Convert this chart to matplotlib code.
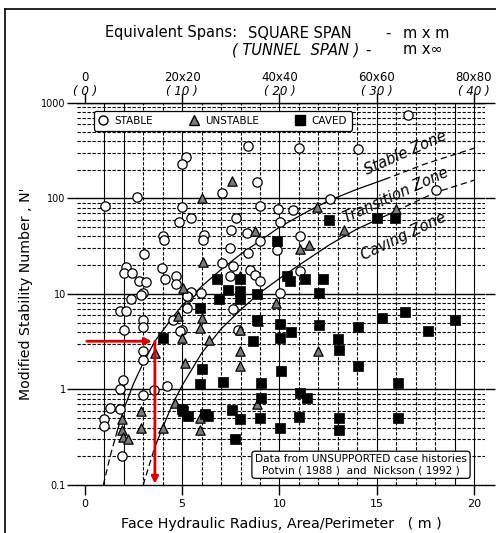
import numpy as np
import matplotlib.pyplot as plt
from matplotlib.lines import Line2D
from matplotlib.transforms import blended_transform_factory

plt.rcParams['font.family'] = ['DejaVu Sans']

# case histories (HR in m, N')
stable_hr = [1.03, 2.7, 5.18, 4.97, 4.97, 4.83, 5.45, 7.03, 8.38, 8.83, 9.0, 4.03, 4.06,
             6.13, 6.05, 3.05, 2.1, 2.02, 2.4, 2.8, 3.12, 3.99, 4.11, 4.7, 4.7, 3.0, 2.37,
             7.03, 7.46, 7.49, 7.76, 8.31, 8.4, 8.48, 7.63, 7.46, 5.48, 5.96, 16.6, 11.02,
             14.05, 18.05, 12.6, 9.94, 10.68, 10.03, 9.0, 11.05, 8.74, 9.0, 10.03, 11.05,
             9.85, 1.8, 2.14, 3.0, 3.0, 2.0, 5.31, 5.23, 4.97, 3.0, 3.0, 4.54, 4.88, 7.59,
             7.88, 4.2, 1.97, 1.83, 1.29, 1.8, 0.99, 0.99, 1.89, 3.0, 3.56, 2.91, 5.23]
stable_n = [84, 103, 270, 230, 82, 56, 62, 115, 350, 148, 83, 40, 37,
            41, 37, 26, 19, 16.5, 16.4, 13.5, 13.2, 18.6, 14.5, 15.4, 12.6, 10.2, 8.8,
            21, 30, 47, 63, 43, 27, 18, 19.5, 15.4, 10.4, 10.2, 745, 333,
            327, 122, 98, 77, 75, 56, 36, 40, 15.6, 13.6, 10.3, 17.3,
            29, 6.7, 6.7, 5.4, 4.5, 4.2, 9.3, 7.2, 4.2, 2.5, 2.06, 5.4, 4.07, 6.9,
            4.24, 1.08, 1.25, 1.02, 0.64, 0.63, 0.49, 0.41, 0.2, 0.87, 0.98, 9.85, 9.5]

unstable_hr = [6.03, 7.57, 6.05, 8.77, 5.06, 7.97, 11.94, 11.05, 11.53, 13.33, 15.99,
               9.82, 8.91, 11.96, 8.83, 7.97, 7.97, 7.97, 4.8, 6.0, 5.91, 4.97, 6.39,
               5.14, 3.6, 1.89, 1.89, 1.97, 2.23, 2.91, 2.91, 4.0, 4.63, 5.91, 5.91]
unstable_n = [100, 151, 21.7, 46, 11.6, 15.4, 82, 29.3, 32.5, 46.4, 77,
              8.1, 5.2, 2.52, 0.70, 4.2, 2.5, 1.75, 5.85, 5.6, 4.42, 3.48, 3.33,
              1.9, 2.42, 0.49, 0.38, 0.32, 0.30, 0.59, 0.40, 0.40, 0.73, 0.50, 0.38]

caved_hr = [12.56, 15.0, 15.94, 9.9, 10.37, 10.54, 11.31, 12.25, 12.05, 7.97, 7.97,
            7.97, 8.83, 16.45, 15.29, 19.02, 17.65, 14.05, 12.03, 12.99, 13.06, 10.03,
            10.03, 10.57, 8.83, 8.65, 14.05, 10.06, 16.08, 9.03, 9.03, 11.05, 11.4, 9.0,
            11.02, 10.03, 13.06, 13.06, 16.08, 7.97, 6.8, 7.37, 6.9, 5.91, 4.0, 6.0,
            5.91, 7.11, 5.06, 5.31, 6.17, 6.34, 7.54, 7.71, 4.97]
caved_n = [59, 63, 63, 36, 15.4, 13.6, 14.2, 14.2, 10.2, 14.2, 10.7,
           8.8, 9.9, 6.5, 5.55, 5.3, 4.07, 4.53, 4.7, 3.39, 2.56, 4.8,
           3.48, 4.01, 5.4, 3.2, 1.75, 1.55, 1.17, 1.16, 0.82, 0.92, 0.81, 0.5,
           0.51, 0.40, 0.505, 0.38, 0.50, 0.49, 14.2, 11.1, 8.9, 7.2, 3.48, 1.62,
           1.13, 1.19, 0.59, 0.53, 0.55, 0.53, 0.61, 0.30, 0.62]

# zone boundaries (dashed where extrapolated)
upper_lo_hr = [0.95, 1.3, 1.65]
upper_lo_n = [0.1, 0.2, 0.36]
upper_hr = [1.65, 2.0, 2.5, 3.0, 3.6, 4.3, 5.0, 6.0, 7.0, 8.0, 9.0, 10.0, 11.5, 12.6, 14.0, 15.4]
upper_n = [0.36, 0.62, 1.15, 1.9, 3.2, 5.0, 7.6, 12, 18, 26, 36, 50, 74, 96, 125, 158]
upper_hi_hr = [15.4, 17.5, 20.0]
upper_hi_n = [158, 230, 335]

lower_lo_hr = [3.0, 3.3, 3.6]
lower_lo_n = [0.1, 0.16, 0.25]
lower_hr = [3.6, 4.0, 4.5, 5.0, 6.0, 7.0, 8.0, 9.0, 10.0, 11.0, 12.6, 14.0, 16.0]
lower_n = [0.25, 0.4, 0.7, 1.1, 2.4, 4.3, 6.8, 10.3, 14.5, 20, 33, 48, 74]
lower_hi_hr = [16.0, 18.0, 20.0]
lower_hi_n = [74, 115, 155]

# worked example (red arrows)
example_hr = 3.6
example_n = 3.2
example_start_hr = 0.1

bottom_ticks = [0, 5, 10, 15, 20]
square_labels = ['0', '20x20', '40x40', '60x60', '80x80']
tunnel_labels = ['( 0 )', '( 10 )', '( 20 )', '( 30 )', '( 40 )']


def main():
    fig = plt.figure(figsize=(4.96, 5.33), dpi=100)
    ax = fig.add_axes([0.155, 0.090, 0.823, 0.717])
    ax.set_yscale('log')
    ax.set_xlim(-0.41, 20.57)
    ax.set_ylim(0.1, 1000)

    # grid lines
    solid_x = [1, 2, 5, 10, 15, 19, 20]
    for xv in range(1, 21):
        ax.axvline(xv, color='black', lw=0.8,
                   ls='-' if xv in solid_x else (0, (3, 1.5)), zorder=1)
    for dec in [0.1, 1, 10, 100]:
        for m in range(2, 10):
            ax.axhline(dec * m, color='black', lw=0.8, ls=(0, (3, 1.5)), zorder=1)
        ax.axhline(dec * 10, color='black', lw=1.0, zorder=1)

    for s in ['left', 'right']:
        ax.spines[s].set_visible(False)
    ax.spines['top'].set_linewidth(1.0)
    ax.spines['bottom'].set_linewidth(1.0)

    # zone boundaries
    ax.plot(upper_lo_hr, upper_lo_n, color='black', lw=0.9, ls=(0, (5, 3)), zorder=2)
    ax.plot(upper_hr, upper_n, color='black', lw=0.9, zorder=2)
    ax.plot(upper_hi_hr, upper_hi_n, color='black', lw=0.9, ls=(0, (5, 3)), zorder=2)
    ax.plot(lower_lo_hr, lower_lo_n, color='black', lw=0.9, ls=(0, (5, 3)), zorder=2)
    ax.plot(lower_hr, lower_n, color='black', lw=0.9, zorder=2)
    ax.plot(lower_hi_hr, lower_hi_n, color='black', lw=0.9, ls=(0, (5, 3)), zorder=2)

    # data points
    ax.scatter(stable_hr, stable_n, s=45, marker='o', facecolor='white',
               edgecolor='black', linewidth=0.9, zorder=4)
    ax.scatter(unstable_hr, unstable_n, s=45, marker='^', facecolor='#7a7a7a',
               edgecolor='black', linewidth=0.9, zorder=5)
    ax.scatter(caved_hr, caved_n, s=60, marker='s', facecolor='black',
               edgecolor='black', linewidth=0.5, zorder=6)

    # red arrows
    ax.annotate('', xy=(example_hr - 0.15, example_n), xytext=(example_start_hr, example_n),
                arrowprops=dict(arrowstyle='-|>', color='#d40000', lw=2,
                                mutation_scale=10, shrinkA=0, shrinkB=0), zorder=7)
    ax.annotate('', xy=(example_hr, 0.103), xytext=(example_hr, example_n),
                arrowprops=dict(arrowstyle='-|>', color='#d40000', lw=2,
                                mutation_scale=10, shrinkA=0, shrinkB=0), zorder=7)

    # zone names
    ax.text(16.5, 300, 'Stable Zone', rotation=24, fontsize=10.5, style='italic',
            ha='center', va='center', rotation_mode='anchor', zorder=3)
    ax.text(16.0, 108, 'Transition Zone', rotation=24.5, fontsize=10.5, style='italic',
            ha='center', va='center', rotation_mode='anchor', zorder=3)
    ax.text(16.4, 40, 'Caving Zone', rotation=25.5, fontsize=10.5, style='italic',
            ha='center', va='center', rotation_mode='anchor', zorder=3)

    # ticks
    ax.set_xticks(bottom_ticks)
    ax.set_xticklabels([str(t) for t in bottom_ticks], fontsize=8)
    ax.set_yticks([0.1, 1, 10, 100, 1000])
    ax.set_yticklabels(['0.1', '1', '10', '100', '1000'], fontsize=7)
    ax.yaxis.set_minor_locator(plt.NullLocator())
    ax.tick_params(axis='x', direction='out', length=7, width=1, top=True, pad=3)
    ax.tick_params(axis='y', direction='out', length=7, width=1, right=True, pad=1)

    # top equivalent span labels
    trans = blended_transform_factory(ax.transData, ax.transAxes)
    for t, sq, tu in zip(bottom_ticks, square_labels, tunnel_labels):
        ax.text(t, 1.066, sq, transform=trans, ha='center', va='center', fontsize=8.5)
        ax.text(t, 1.030, tu, transform=trans, ha='center', va='center', fontsize=8.5,
                style='italic')

    y1 = 1 - 33 / 533
    y2 = 1 - 50 / 533
    fig.text(105 / 496, y1, 'Equivalent Spans:', fontsize=10.5, ha='left', va='center')
    fig.text(248 / 496, y1, 'SQUARE SPAN', fontsize=10.5, ha='left', va='center')
    fig.text(388 / 496, y1, '-', fontsize=10.5, ha='center', va='center')
    fig.text(403 / 496, y1, 'm x m', fontsize=10.5, ha='left', va='center')
    fig.text(232 / 496, y2, '( TUNNEL  SPAN )', fontsize=10.5, ha='left', va='center',
             style='italic')
    fig.text(368 / 496, y2, '-', fontsize=10.5, ha='center', va='center')
    fig.text(403 / 496, y2, 'm x\u221e', fontsize=10.5, ha='left', va='center')

    ax.set_xlabel('Face Hydraulic Radius, Area/Perimeter   ( m )', fontsize=10.3, labelpad=6)
    ax.set_ylabel("Modified Stability Number , N'", fontsize=10.2, labelpad=6)

    # legend
    handles = [
        Line2D([], [], marker='o', ls='none', markerfacecolor='white',
               markeredgecolor='black', markersize=6.5, label='STABLE'),
        Line2D([], [], marker='^', ls='none', markerfacecolor='#7a7a7a',
               markeredgecolor='black', markersize=6.5, label='UNSTABLE'),
        Line2D([], [], marker='s', ls='none', markerfacecolor='black',
               markeredgecolor='black', markersize=7.5, label='CAVED'),
    ]
    leg = ax.legend(handles=handles, ncol=3, loc='upper left', bbox_to_anchor=(0.028, 0.992),
                    fontsize=7.5, frameon=True, fancybox=True, framealpha=1,
                    edgecolor='black', handletextpad=0.6, columnspacing=3.4,
                    borderpad=0.45, handlelength=1.0)
    leg.get_frame().set_linewidth(0.9)
    leg.set_zorder(8)

    # data source note
    ax.text(0.696, 0.053, 'Data from UNSUPPORTED case histories\nPotvin ( 1988 )  and  Nickson ( 1992 )',
            transform=ax.transAxes, ha='center', va='center', fontsize=7.6,
            linespacing=1.1, zorder=8,
            bbox=dict(boxstyle='round,pad=0.3', facecolor='white', edgecolor='black', lw=0.9))

    # outer frame
    fig.add_artist(Line2D([5 / 496, 5 / 496], [0, 1 - 9 / 533], color='black', lw=1.2,
                          transform=fig.transFigure))
    fig.add_artist(Line2D([5 / 496, 1], [1 - 9 / 533, 1 - 9 / 533], color='black', lw=1.2,
                          transform=fig.transFigure))

    fig.savefig('out.png', dpi=100)


if __name__ == '__main__':
    main()
